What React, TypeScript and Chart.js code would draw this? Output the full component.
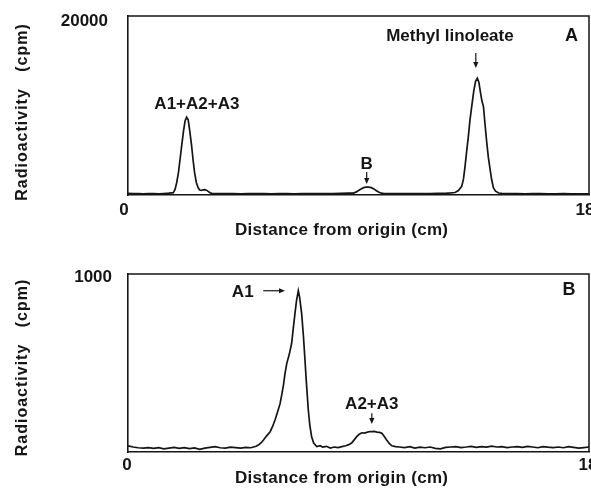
import React, { useEffect, useRef } from 'react';
import { Chart, registerables } from 'chart.js';

Chart.register(...registerables);

const FONT_FAMILY = '"Liberation Sans", Arial, Helvetica, sans-serif';
const INK = '#151515';

// ---- shared axis data ----
const xTickValues = [0, 18];
const xTickLabels = ['0', '18'];
const xAxisTitle = 'Distance from origin (cm)';
const yAxisTitle = 'Radioactivity   (cpm)';

// ---- Panel A : distance (cm) / radioactivity (cpm) ----
const panelADistance = [
  0, 0.2, 0.4, 0.6, 0.8, 1.0, 1.2, 1.4, 1.6, 1.7,
  1.77, 1.84, 1.9, 1.97, 2.03, 2.1, 2.17, 2.23, 2.29, 2.35, 2.41, 2.48, 2.54, 2.6, 2.67, 2.74, 2.8, 2.87, 2.94, 3.0, 3.06, 3.13, 3.2, 3.27,
  3.5, 3.8, 4.1, 4.4, 4.7, 5.0, 5.3, 5.6, 5.9, 6.2, 6.5, 6.8, 7.1, 7.4, 7.7, 8.0, 8.3, 8.6,
  8.8, 8.9, 9.0, 9.1, 9.2, 9.3, 9.4, 9.5, 9.6, 9.7, 9.8, 9.9, 10.0,
  10.3, 10.6, 10.9, 11.2, 11.5, 11.8, 12.1, 12.4, 12.6, 12.77,
  12.9, 13.03, 13.1, 13.16, 13.22, 13.29, 13.35, 13.42, 13.5, 13.57, 13.64, 13.7, 13.76, 13.82, 13.88, 13.94, 14.01, 14.07, 14.14, 14.2, 14.27, 14.35, 14.47, 14.6,
  14.9, 15.2, 15.5, 15.8, 16.1, 16.4, 16.7, 17.0, 17.3, 17.6, 18.0,
];
const panelACpm = [
  180, 150, 170, 140, 160, 150, 140, 170, 200, 230,
  250, 650, 1370, 2500, 3940, 5600, 7200, 8300, 8700, 8400, 7200, 5600, 3940, 2500, 1370, 800, 560, 520, 580, 600, 540, 400, 260, 180,
  170, 150, 160, 140, 150, 170, 150, 140, 160, 150, 140, 150, 170, 160, 150, 170, 180, 200,
  220, 320, 500, 680, 820, 890, 880, 820, 680, 480, 300, 200, 170,
  160, 150, 170, 160, 150, 170, 180, 190, 230, 280,
  500, 960, 1800, 3190, 4800, 6540, 8300, 9880, 11600, 12700, 13050, 12600, 11500, 10500, 9880, 7900, 5800, 4200, 2830, 1700, 780, 420, 220, 180,
  160, 150, 140, 160, 150, 130, 140, 150, 130, 140, 130,
];
const panelAYMax = 20000;
const panelAYTickLabel = '20000';

// ---- Panel B ----
const panelBDistance = [
  0, 0.2, 0.4, 0.6, 0.8, 1.0, 1.2, 1.4, 1.6, 1.8, 2.0, 2.2, 2.4, 2.6, 2.8, 3.0, 3.2, 3.4, 3.6, 3.8, 4.0, 4.2, 4.4, 4.6, 4.8, 5.0,
  5.09, 5.2, 5.29, 5.4, 5.55, 5.65, 5.74, 5.84, 5.94, 6.0, 6.07, 6.13, 6.2, 6.3, 6.39, 6.45, 6.52, 6.58, 6.65, 6.7, 6.78, 6.85, 6.91, 6.97, 7.04, 7.1, 7.17, 7.25, 7.37, 7.5,
  7.6, 7.75, 7.9, 8.05, 8.2, 8.35, 8.5, 8.6, 8.73,
  8.83, 8.93, 9.03, 9.13, 9.25, 9.35, 9.45, 9.52, 9.62, 9.72, 9.82, 9.91, 10.0, 10.1, 10.2, 10.3, 10.45,
  10.6, 10.8, 11.0, 11.2, 11.4, 11.6, 11.8, 12.0, 12.2, 12.4, 12.6, 12.8, 13.0, 13.2, 13.4, 13.6, 13.8, 14.0, 14.2, 14.4,
  14.6, 14.8, 15.0, 15.2, 15.4, 15.6, 15.8, 16.0, 16.2, 16.4, 16.6, 16.8, 17.0, 17.2, 17.4, 17.6, 17.8, 18.0,
];
const panelBCpm = [
  35, 28, 24, 22, 25, 20, 24, 18, 22, 26, 20, 24, 19, 23, 15, 22, 26, 30, 24, 22, 27, 25, 22, 26, 24, 32,
  39, 52, 67, 88, 114, 145, 180, 225, 273, 320, 376, 440, 498, 550, 611, 690, 779, 850, 906, 870, 779, 650, 517, 380, 236, 150, 86, 50, 30, 35,
  28, 32, 22, 28, 25, 30, 35, 40, 50,
  68, 86, 100, 108, 106, 112, 115, 114, 116, 112, 110, 105, 88, 67, 48, 35, 30,
  28, 25, 30, 22, 27, 24, 28, 20, 18, 26, 28, 30, 25, 28, 32, 26, 30, 27, 33, 28,
  30, 25, 28, 30, 26, 32, 28, 24, 30, 27, 25, 28, 24, 30, 26, 22, 25, 28,
];
const panelBYMax = 1000;
const panelBYTickLabel = '1000';

type Note = { text: string; x: number; y: number; size: number };
type Arrow = { x1: number; y1: number; x2: number; y2: number };

type PanelProps = {
  top: number;
  width: number;
  height: number;
  plot: { left: number; right: number; top: number; bottom: number };
  xs: number[];
  ys: number[];
  yMax: number;
  yTickLabel: string;
  yTickPad: number;
  yTickOffset: number;
  xTickPad: number;
  xTickOffset: number;
  xTitleCenter: number; // in cm
  xTitleBaseline: number; // px below plot bottom
  yTitleCenterY: number; // canvas px
  notes: Note[];
  arrows: Arrow[];
};

function font(size: number) {
  return `bold ${size}px ${FONT_FAMILY}`;
}

function Panel(p: PanelProps) {
  const ref = useRef<HTMLCanvasElement | null>(null);

  useEffect(() => {
    const canvas = ref.current;
    if (!canvas) return;

    const overlay = {
      id: 'overlay',
      afterDraw(chart: any) {
        const ctx: CanvasRenderingContext2D = chart.ctx;
        const { left, right, top, bottom } = chart.chartArea;
        const sx = chart.scales.x;
        const sy = chart.scales.y;
        ctx.save();
        // top and right frame lines
        ctx.strokeStyle = INK;
        ctx.lineWidth = 1.5;
        ctx.beginPath();
        ctx.moveTo(left, top);
        ctx.lineTo(right, top);
        ctx.lineTo(right, bottom);
        ctx.stroke();

        ctx.fillStyle = INK;
        // notes
        ctx.textAlign = 'center';
        ctx.textBaseline = 'alphabetic';
        for (const n of p.notes) {
          ctx.font = font(n.size);
          ctx.fillText(n.text, sx.getPixelForValue(n.x), sy.getPixelForValue(n.y) + 0.358 * n.size);
        }
        // arrows
        ctx.lineWidth = 1.2;
        for (const a of p.arrows) {
          const x1 = sx.getPixelForValue(a.x1);
          const y1 = sy.getPixelForValue(a.y1);
          const x2 = sx.getPixelForValue(a.x2);
          const y2 = sy.getPixelForValue(a.y2);
          const ang = Math.atan2(y2 - y1, x2 - x1);
          const head = 6;
          ctx.beginPath();
          ctx.moveTo(x1, y1);
          ctx.lineTo(x2 - Math.cos(ang) * head * 0.6, y2 - Math.sin(ang) * head * 0.6);
          ctx.stroke();
          ctx.beginPath();
          ctx.moveTo(x2, y2);
          ctx.lineTo(x2 - Math.cos(ang) * head - Math.sin(ang) * 2.6, y2 - Math.sin(ang) * head + Math.cos(ang) * 2.6);
          ctx.lineTo(x2 - Math.cos(ang) * head + Math.sin(ang) * 2.6, y2 - Math.sin(ang) * head - Math.cos(ang) * 2.6);
          ctx.closePath();
          ctx.fill();
        }
        // x axis title
        ctx.font = font(17);
        ctx.textAlign = 'center';
        (ctx as any).letterSpacing = '0.3px';
        ctx.fillText(xAxisTitle, sx.getPixelForValue(p.xTitleCenter), bottom + p.xTitleBaseline);
        // y axis title (rotated)
        ctx.font = font(16);
        (ctx as any).letterSpacing = '1px';
        ctx.translate(26.5, p.yTitleCenterY);
        ctx.rotate(-Math.PI / 2);
        ctx.fillText(yAxisTitle, 0, 0);
        ctx.restore();
      },
    };

    const W = p.width;
    const H = p.height;
    const tickFont = { family: FONT_FAMILY, size: 17, weight: 'bold' as const };

    const chart = new Chart(canvas, {
      type: 'line',
      data: {
        datasets: [
          {
            data: p.xs.map((x, i) => ({ x, y: p.ys[i] })),
            borderColor: INK,
            borderWidth: 1.7,
            pointRadius: 0,
            tension: 0,
            fill: false,
          },
        ],
      },
      options: {
        animation: false,
        responsive: false,
        maintainAspectRatio: false,
        events: [],
        layout: { padding: { left: 0, top: p.plot.top, right: W - p.plot.right, bottom: 0 } },
        plugins: { legend: { display: false }, tooltip: { enabled: false } },
        scales: {
          x: {
            type: 'linear',
            min: 0,
            max: 18,
            grid: { display: false, drawTicks: false },
            border: { display: true, color: INK, width: 1.6 },
            afterBuildTicks: (s: any) => {
              s.ticks = xTickValues.map((v) => ({ value: v }));
            },
            ticks: {
              autoSkip: false,
              maxRotation: 0,
              font: tickFont,
              color: INK,
              padding: p.xTickPad,
              labelOffset: p.xTickOffset,
              callback: (v: any) => {
                const i = xTickValues.indexOf(Number(v));
                return i >= 0 ? xTickLabels[i] : '';
              },
            },
            afterFit: (s: any) => {
              s.height = H - p.plot.bottom;
              s.paddingLeft = 0;
              s.paddingRight = 0;
            },
          },
          y: {
            type: 'linear',
            min: 0,
            max: p.yMax,
            grid: { display: false, drawTicks: false },
            border: { display: true, color: INK, width: 1.6 },
            afterBuildTicks: (s: any) => {
              s.ticks = [{ value: p.yMax }];
            },
            ticks: {
              autoSkip: false,
              font: tickFont,
              color: INK,
              padding: p.yTickPad,
              labelOffset: p.yTickOffset,
              callback: (v: any) => (Number(v) === p.yMax ? p.yTickLabel : ''),
            },
            afterFit: (s: any) => {
              s.width = p.plot.left;
              s.paddingTop = 0;
              s.paddingBottom = 0;
            },
          },
        },
      },
      plugins: [overlay],
    });

    return () => chart.destroy();
  }, []);

  return (
    <canvas
      ref={ref}
      width={p.width}
      height={p.height}
      style={{ position: 'absolute', left: 0, top: p.top, width: p.width, height: p.height }}
    />
  );
}

export default function App() {
  return (
    <div style={{ position: 'fixed', left: 0, top: 0, width: 591, height: 493, background: '#fff', overflow: 'hidden' }}>
      <Panel
        top={0}
        width={591}
        height={246}
        plot={{ left: 128, right: 589, top: 16, bottom: 195 }}
        xs={panelADistance}
        ys={panelACpm}
        yMax={panelAYMax}
        yTickLabel={panelAYTickLabel}
        yTickPad={20}
        yTickOffset={5}
        xTickPad={5}
        xTickOffset={-4}
        xTitleCenter={8.34}
        xTitleBaseline={40.3}
        yTitleCenterY={112}
        notes={[
          { text: 'A1+A2+A3', x: 2.69, y: 10330, size: 17 },
          { text: 'B', x: 9.32, y: 3630, size: 17 },
          { text: 'Methyl linoleate', x: 12.57, y: 17900, size: 17 },
          { text: 'A', x: 17.32, y: 17980, size: 18 },
        ]}
        arrows={[
          { x1: 9.32, y1: 2570, x2: 9.32, y2: 1230 },
          { x1: 13.58, y1: 15860, x2: 13.58, y2: 14190 },
        ]}
      />
      <Panel
        top={246}
        width={591}
        height={247}
        plot={{ left: 128, right: 589, top: 28, bottom: 206 }}
        xs={panelBDistance}
        ys={panelBCpm}
        yMax={panelBYMax}
        yTickLabel={panelBYTickLabel}
        yTickPad={16}
        yTickOffset={3}
        xTickPad={3}
        xTickOffset={-1}
        xTitleCenter={8.34}
        xTitleBaseline={31}
        yTitleCenterY={121.5}
        notes={[
          { text: 'A1', x: 4.48, y: 904, size: 17 },
          { text: 'B', x: 17.22, y: 916, size: 18 },
          { text: 'A2+A3', x: 9.52, y: 278, size: 17 },
        ]}
        arrows={[
          { x1: 5.28, y1: 906, x2: 6.13, y2: 906 },
          { x1: 9.52, y1: 217, x2: 9.52, y2: 157 },
        ]}
      />
    </div>
  );
}
